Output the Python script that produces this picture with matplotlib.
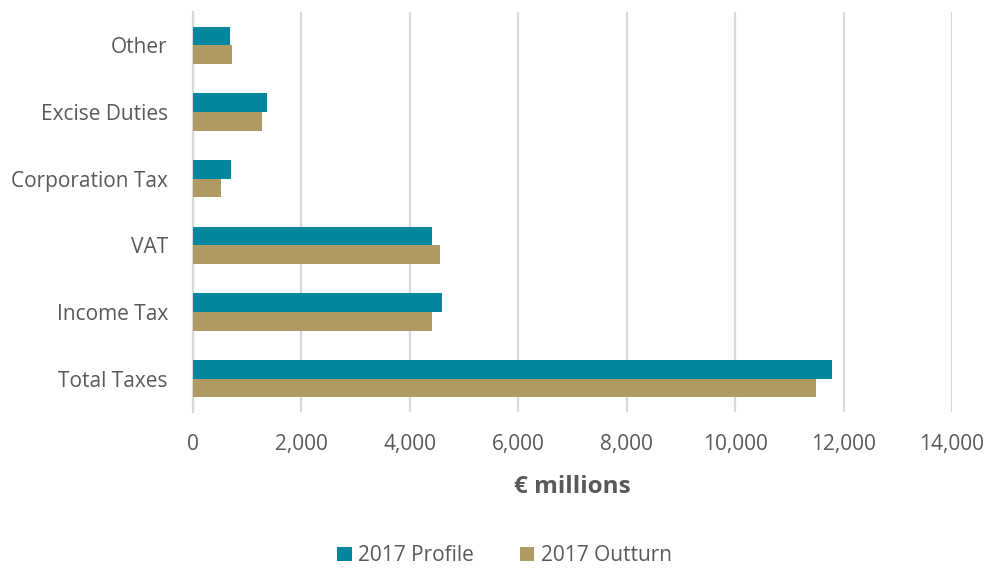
import matplotlib.pyplot as plt
import numpy as np

categories = ['Total Taxes', 'Income Tax', 'VAT', 'Corporation Tax', 'Excise Duties', 'Other']
profile = [11780, 4595, 4410, 695, 1365, 690]
outturn = [11495, 4410, 4565, 515, 1270, 713]

teal = '#00879E'
tan = '#AE9A62'
grey = '#595959'

plt.rcParams['font.family'] = ['Open Sans', 'DejaVu Sans']

fig = plt.figure(figsize=(9.89, 5.68), dpi=100)
ax = fig.add_axes([0.195, 0.2746, 0.9626 - 0.195, 0.979 - 0.2746])

y = np.arange(len(categories))
h = 0.28
ax.barh(y + h / 2, profile, height=h, color=teal, label='2017 Profile', zorder=3)
ax.barh(y - h / 2, outturn, height=h, color=tan, label='2017 Outturn', zorder=3)

ax.set_xlim(0, 14000)
ax.set_ylim(-0.5, len(categories) - 0.5)
ax.set_xticks(np.arange(0, 14001, 2000))
ax.set_xticklabels([f'{v:,}' for v in range(0, 14001, 2000)])
ax.set_yticks(y)
ax.set_yticklabels(categories)
ax.tick_params(axis='both', length=0, labelsize=15, colors=grey)
ax.tick_params(axis='x', pad=16)
ax.tick_params(axis='y', pad=18)
ax.xaxis.grid(True, color='#D9D9D9', linewidth=1.6, zorder=0)
for s in ['top', 'right', 'bottom']:
    ax.spines[s].set_visible(False)
ax.spines['left'].set_color('#D9D9D9')
ax.spines['left'].set_linewidth(1.6)

ax.set_xlabel('€ millions', fontsize=17.5, fontweight='bold', color=grey, labelpad=14)

fig.legend(loc='lower center', bbox_to_anchor=(0.51, -0.03), ncol=2, frameon=False,
           fontsize=15, labelcolor=grey, handlelength=0.7, handleheight=0.7,
           handletextpad=0.3, columnspacing=2.2)

plt.savefig('out.png', format='png', dpi=100)
